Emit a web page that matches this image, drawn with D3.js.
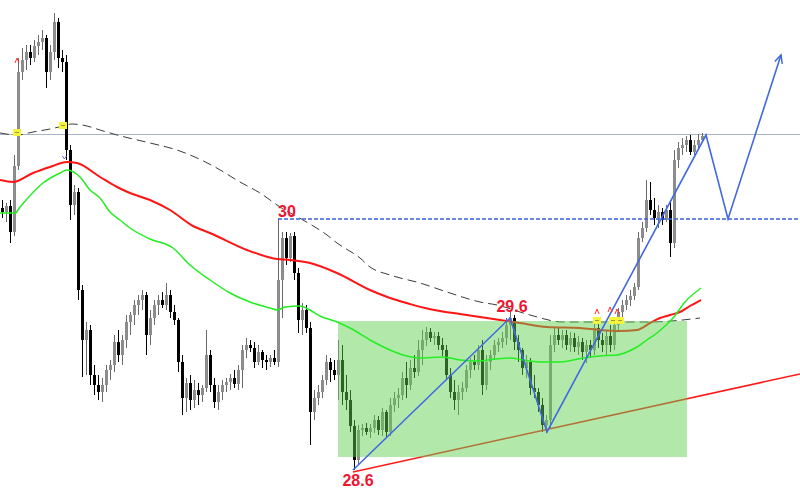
<!DOCTYPE html>
<html><head><meta charset="utf-8">
<script src="https://cdn.jsdelivr.net/npm/d3@7"></script>
<style>html,body{margin:0;padding:0;background:#fff;overflow:hidden}</style>
</head><body>
<svg id="c" width="800" height="488"></svg>
<script>
// OHLC candles [open, high, low, close]
const candles = [
[30.92,31.00,30.82,30.88],[30.88,30.97,30.78,30.94],[30.94,31.00,30.57,30.68],[30.68,31.45,30.64,31.34],
[31.34,32.42,31.30,32.28],[32.28,32.52,32.20,32.40],[32.40,32.55,32.30,32.48],[32.48,32.55,32.35,32.42],
[32.42,32.60,32.38,32.54],[32.54,32.65,32.45,32.58],[32.58,32.70,32.50,32.62],[32.62,32.65,32.12,32.28],
[32.28,32.55,32.20,32.48],[32.48,32.87,32.40,32.78],[32.78,32.82,32.32,32.42],[32.42,32.50,32.28,32.38],
[32.38,32.45,31.40,31.50],[31.50,31.55,30.80,30.95],[30.95,31.15,30.85,31.08],[31.08,31.12,30.00,30.10],
[30.10,30.15,29.23,29.60],[29.60,29.78,29.25,29.70],[29.70,29.75,29.15,29.25],[29.25,29.35,29.05,29.15],
[29.15,29.25,29.00,29.08],[29.08,29.22,28.98,29.15],[29.15,29.35,29.08,29.30],[29.30,29.40,29.20,29.35],
[29.35,29.65,29.28,29.58],[29.58,29.70,29.38,29.45],[29.45,29.65,29.35,29.60],[29.60,29.85,29.52,29.78],
[29.78,29.88,29.65,29.85],[29.85,30.00,29.75,29.95],[29.95,30.05,29.85,30.00],[30.00,30.10,29.90,30.05],
[30.05,30.08,29.45,29.65],[29.65,29.90,29.55,29.82],[29.82,30.00,29.75,29.95],[29.95,30.05,29.85,30.00],
[30.00,30.08,29.92,29.95],[29.95,30.17,29.90,30.05],[30.05,30.10,29.82,29.88],[29.88,29.95,29.75,29.80],
[29.80,29.82,29.28,29.38],[29.38,29.45,28.85,29.02],[29.02,29.22,28.88,29.17],[29.17,29.25,28.90,29.00],
[29.00,29.20,28.92,29.10],[29.10,29.17,28.95,29.05],[29.05,29.15,28.98,29.12],[29.12,29.70,29.08,29.45],
[29.45,29.50,29.08,29.15],[29.15,29.22,28.92,28.98],[28.98,29.15,28.90,29.08],[29.08,29.20,29.00,29.15],
[29.15,29.22,29.08,29.18],[29.18,29.26,29.10,29.22],[29.22,29.30,29.12,29.16],[29.16,29.35,29.10,29.30],
[29.30,29.55,29.12,29.50],[29.50,29.62,29.42,29.55],[29.55,29.60,29.48,29.52],[29.52,29.58,29.32,29.38],
[29.38,29.55,29.35,29.48],[29.48,29.50,29.32,29.40],[29.40,29.45,29.30,29.38],[29.38,29.45,29.33,29.42],
[29.42,29.50,29.35,29.38],[29.38,30.82,29.33,30.20],[30.20,30.68,29.82,30.62],[30.62,30.68,30.35,30.42],
[30.42,30.67,30.38,30.64],[30.64,30.68,30.20,30.27],[30.27,30.32,29.67,29.80],[29.80,29.97,29.65,29.90],
[29.90,29.95,29.67,29.72],[29.72,29.78,28.55,28.88],[28.88,29.10,28.80,29.02],[29.02,29.15,28.95,29.08],
[29.08,29.25,29.02,29.20],[29.20,29.45,29.15,29.38],[29.38,29.42,29.18,29.30],[29.30,29.40,29.20,29.25],
[29.25,29.60,29.00,29.40],[29.40,29.55,28.95,29.08],[29.08,29.25,28.90,29.00],[29.00,29.10,28.68,28.74],
[28.74,28.80,28.30,28.40],[28.40,28.75,28.35,28.70],[28.70,28.76,28.64,28.72],[28.72,28.77,28.65,28.68],
[28.68,28.76,28.62,28.72],[28.72,28.85,28.67,28.80],[28.80,28.84,28.65,28.70],[28.70,28.92,28.64,28.88],
[28.88,28.90,28.62,28.68],[28.68,29.02,28.64,28.95],[28.95,29.08,28.88,29.02],[29.02,29.12,28.92,29.05],
[29.05,29.28,29.00,29.22],[29.22,29.38,29.02,29.15],[29.15,29.40,29.10,29.32],[29.32,29.45,29.22,29.28],
[29.28,29.60,29.24,29.50],[29.50,29.70,29.35,29.60],[29.60,29.73,29.54,29.68],[29.68,29.72,29.58,29.62],
[29.62,29.68,29.55,29.64],[29.64,29.68,29.50,29.55],[29.55,29.62,29.44,29.50],[29.50,29.55,29.20,29.25],
[29.25,29.32,29.02,29.08],[29.08,29.20,28.90,29.00],[29.00,29.15,28.85,29.08],[29.08,29.18,29.00,29.12],
[29.12,29.35,29.08,29.30],[29.30,29.42,29.22,29.38],[29.38,29.45,29.30,29.35],[29.35,29.55,29.30,29.50],
[29.50,29.60,29.05,29.15],[29.15,29.45,29.10,29.38],[29.38,29.50,29.30,29.45],[29.45,29.60,29.40,29.55],
[29.55,29.62,29.48,29.58],[29.58,29.68,29.52,29.62],[29.62,29.82,29.55,29.75],[29.75,29.88,29.60,29.82],
[29.82,29.85,29.50,29.58],[29.58,29.65,29.38,29.50],[29.50,29.52,29.25,29.32],[29.32,29.45,29.22,29.38],
[29.38,29.42,29.05,29.12],[29.12,29.25,29.02,29.08],[29.08,29.12,28.88,28.95],[28.95,29.02,28.68,28.75],
[28.75,28.85,28.67,28.80],[28.80,29.65,28.72,29.55],[29.55,29.72,29.48,29.65],[29.65,29.72,29.55,29.60],
[29.60,29.70,29.52,29.65],[29.65,29.70,29.50,29.55],[29.55,29.68,29.48,29.62],[29.62,29.67,29.48,29.53],
[29.53,29.64,29.45,29.58],[29.58,29.62,29.40,29.48],[29.48,29.60,29.37,29.55],[29.55,29.60,29.42,29.50],
[29.50,29.82,29.45,29.72],[29.72,29.78,29.52,29.60],[29.60,29.67,29.48,29.55],[29.55,29.70,29.45,29.64],
[29.64,29.75,29.48,29.55],[29.55,29.82,29.50,29.75],[29.75,29.92,29.70,29.88],[29.88,30.00,29.82,29.95],
[29.95,30.05,29.90,30.00],[30.00,30.10,29.94,30.04],[30.04,30.17,30.00,30.13],[30.13,30.68,30.10,30.62],
[30.62,30.78,30.58,30.72],[30.72,31.20,30.68,31.00],[31.00,31.18,30.85,30.90],[30.90,31.02,30.75,30.82],
[30.82,30.95,30.72,30.88],[30.88,30.92,30.75,30.80],[30.80,30.95,30.78,30.90],[30.90,31.00,30.43,30.57],
[30.57,31.50,30.52,31.40],[31.40,31.58,31.32,31.52],[31.52,31.62,31.45,31.55],[31.55,31.64,31.48,31.60],
[31.60,31.65,31.45,31.48],[31.48,31.60,31.45,31.55],[31.55,31.66,31.52,31.60],[31.60,31.67,31.57,31.64]
];

// Moving averages: [bar index, price]
const redMA = [[-0.5,31.20],[2.75,31.18],[7.75,31.27],[12,31.33],[16.25,31.38],[18.75,31.37],[24.5,31.23],
[28.75,31.13],[32,31.07],[37,31.00],[42,30.90],[47.75,30.74],[52,30.67],[61.25,30.50],[68.75,30.41],[72,30.40],
[77,30.37],[83.75,30.27],[92,30.10],[97,30.02],[102,29.96],[105.75,29.92],[109.5,29.89],[114.5,29.86],
[119.5,29.83],[124.5,29.80],[129.5,29.77],[136.25,29.73],[144.5,29.72],[149.5,29.70],[154.5,29.69],
[158.75,29.70],[162,29.77],[164.5,29.82],[167,29.85],[169.5,29.88],[172,29.94],[174.75,30.00]];
const greenMA = [[-0.5,30.87],[3.25,30.87],[4.5,30.93],[10.25,31.17],[14.5,31.27],[16.25,31.30],[19.5,31.23],
[22,31.10],[24.5,31.02],[27,30.88],[29.5,30.80],[32,30.72],[37,30.61],[42.75,30.52],[47,30.35],[52,30.20],
[57,30.07],[62,29.98],[67,29.92],[68.75,29.90],[70.75,29.93],[74.5,29.94],[77,29.90],[79.5,29.84],
[83.75,29.78],[87,29.72],[92,29.60],[97,29.50],[100.25,29.45],[104.5,29.42],[110.25,29.43],[114.5,29.40],
[118.75,29.39],[123.25,29.41],[127,29.42],[130.25,29.40],[135.25,29.38],[139.5,29.38],[145.25,29.42],
[149.5,29.44],[153.75,29.45],[156.25,29.48],[158.75,29.53],[161.25,29.60],[163.75,29.67],[165.75,29.74],
[167.75,29.82],[170.75,29.98],[174.75,30.12]];
const grayMA = [[-0.5,31.67],[3.75,31.65],[7.75,31.68],[12,31.71],[15.25,31.74],[17.5,31.76],[21.25,31.74],
[24.5,31.70],[28.75,31.65],[37,31.57],[43.75,31.50],[48.75,31.42],[53.25,31.33],[59.5,31.18],[64.5,31.07],
[69.5,30.93],[75.25,30.80],[81.25,30.65],[83.75,30.57],[89.5,30.42],[92,30.33],[97,30.25],[104.5,30.17],
[112,30.07],[119.5,29.98],[123.75,29.95],[132,29.85],[140.25,29.78],[144.5,29.78],[154.5,29.78],
[162,29.78],[174.5,29.82]];

// Annotations
const resistanceLevel = 31.66;
const breakoutLevel = 30.81;
const breakoutStartBar = 69;
const zigzag = [[87.75,28.30],[127,29.82],[136.25,28.68],[176,31.65],[181.5,30.81],[194.75,32.45]];
const trendLine = [[87.75,28.28],[199.5,29.26]];
const zoneBars = [84, 171.25];
const zonePrices = [28.43, 29.79];
const pivotTexts = ["30", "29.6", "28.6"];
const pivotBars = [69, 127.5, 89];
const pivotPrices = [30.82, 29.82, 28.30];
const yellowMarks = [[3.75,31.67],[15.25,31.74],[148.75,29.79],[152.75,29.79],[154.5,29.79]];
const redArrows = [[3.75,32.40],[148.75,29.89],[152,29.91],[153.75,29.89]];

const W = 800, H = 488;
const svg = d3.select("#c");
const x = d3.scaleLinear().domain([0, 199.5]).range([2, 800]);
const y = d3.scaleLinear().domain([28.12, 33]).range([H, 0]);

// resistance horizontal line
svg.append("line").attr("x1",0).attr("x2",W)
  .attr("y1",Math.round(y(resistanceLevel))+0.5).attr("y2",Math.round(y(resistanceLevel))+0.5)
  .attr("stroke","#a7b5c3").attr("stroke-width",1);

// candles
const g = svg.append("g");
candles.forEach((d,i)=>{
  const [o,h,l,c] = d;
  const up = c >= o;
  const cx = Math.round(x(i));
  g.append("line").attr("x1",cx+0.5).attr("x2",cx+0.5)
    .attr("y1",y(h)).attr("y2",y(l))
    .attr("stroke", up ? "#6a6a6a" : "#000").attr("stroke-width",1);
  const top = y(Math.max(o,c)), bot = y(Math.min(o,c));
  g.append("rect").attr("x",cx-1).attr("width",3)
    .attr("y",top).attr("height",Math.max(1,bot-top))
    .attr("fill", up ? "#8c8c8c" : "#000");
});

const line = d3.line().x(d=>x(d[0])).y(d=>y(d[1])).curve(d3.curveMonotoneX);
svg.append("path").datum(grayMA).attr("d",line).attr("fill","none")
  .attr("stroke","#3c3c3c").attr("stroke-width",1).attr("stroke-dasharray","9,5");
svg.append("path").datum(redMA).attr("d",line).attr("fill","none")
  .attr("stroke","#ff1414").attr("stroke-width",2);

// red trend line
svg.append("line").attr("x1",x(trendLine[0][0])).attr("y1",y(trendLine[0][1]))
  .attr("x2",x(trendLine[1][0])).attr("y2",y(trendLine[1][1]))
  .attr("stroke","#ff1a1a").attr("stroke-width",1.5);

// green zone
svg.append("rect").attr("x",x(zoneBars[0])).attr("width",x(zoneBars[1])-x(zoneBars[0]))
  .attr("y",y(zonePrices[1])).attr("height",y(zonePrices[0])-y(zonePrices[1]))
  .attr("fill","#5fd14f").attr("fill-opacity",0.48);

svg.append("path").datum(greenMA).attr("d",line).attr("fill","none")
  .attr("stroke","#22ee22").attr("stroke-width",1.5);

// breakout dashed level
svg.append("line").attr("x1",x(breakoutStartBar)).attr("x2",W)
  .attr("y1",y(breakoutLevel)).attr("y2",y(breakoutLevel))
  .attr("stroke","#3a62d8").attr("stroke-width",1.5).attr("stroke-dasharray","4,2");

// zigzag
const zl = d3.line().x(d=>x(d[0])).y(d=>y(d[1]));
svg.append("path").datum(zigzag).attr("d",zl).attr("fill","none")
  .attr("stroke","#4169e1").attr("stroke-width",1.6).attr("stroke-linejoin","miter");
// arrow head
{
  const a = zigzag[zigzag.length-2], b = zigzag[zigzag.length-1];
  const x1=x(a[0]), y1=y(a[1]), x2=x(b[0]), y2=y(b[1]);
  const ang = Math.atan2(y2-y1, x2-x1);
  const L = 9, sp = 0.45;
  const p = [[x2 - L*Math.cos(ang-sp), y2 - L*Math.sin(ang-sp)],[x2,y2],[x2 - L*Math.cos(ang+sp), y2 - L*Math.sin(ang+sp)]];
  svg.append("path").attr("d", d3.line()(p)).attr("fill","none").attr("stroke","#4169e1").attr("stroke-width",1.5);
}

// yellow markers
yellowMarks.forEach(m=>{
  const mx = x(m[0]), my = y(m[1]);
  svg.append("rect").attr("x",mx-4).attr("y",my-4).attr("width",8).attr("height",7).attr("fill","#f4f43a");
  svg.append("line").attr("x1",mx-2).attr("x2",mx+2).attr("y1",my-0.5).attr("y2",my-0.5)
    .attr("stroke","#9a9a40").attr("stroke-width",1);
});
// small red arrows
redArrows.forEach(m=>{
  const mx = x(m[0]), my = y(m[1]);
  svg.append("path").attr("d",`M${mx-2},${my+3}L${mx},${my-2}L${mx+2},${my+3}`)
    .attr("fill","none").attr("stroke","#ff3030").attr("stroke-width",1);
});
// small purple mark
svg.append("path").attr("d",`M${x(15.6)-2},${y(31.42)-2}L${x(15.6)},${y(31.42)+1}L${x(15.6)+2},${y(31.42)-2}`)
  .attr("fill","none").attr("stroke","#7a5cf0").attr("stroke-width",1);

// pivot labels
const offs = [-1, -6, 16];
const anchors = ["start","middle","middle"];
pivotTexts.forEach((t,i)=>{
  svg.append("text").attr("x",x(pivotBars[i])).attr("y",y(pivotPrices[i])+offs[i])
    .attr("text-anchor",anchors[i])
    .attr("font-family","'Liberation Sans', Arial, sans-serif").attr("font-weight","bold")
    .attr("font-size",16).attr("fill","#f01430").text(t);
});
</script>
</body></html>
